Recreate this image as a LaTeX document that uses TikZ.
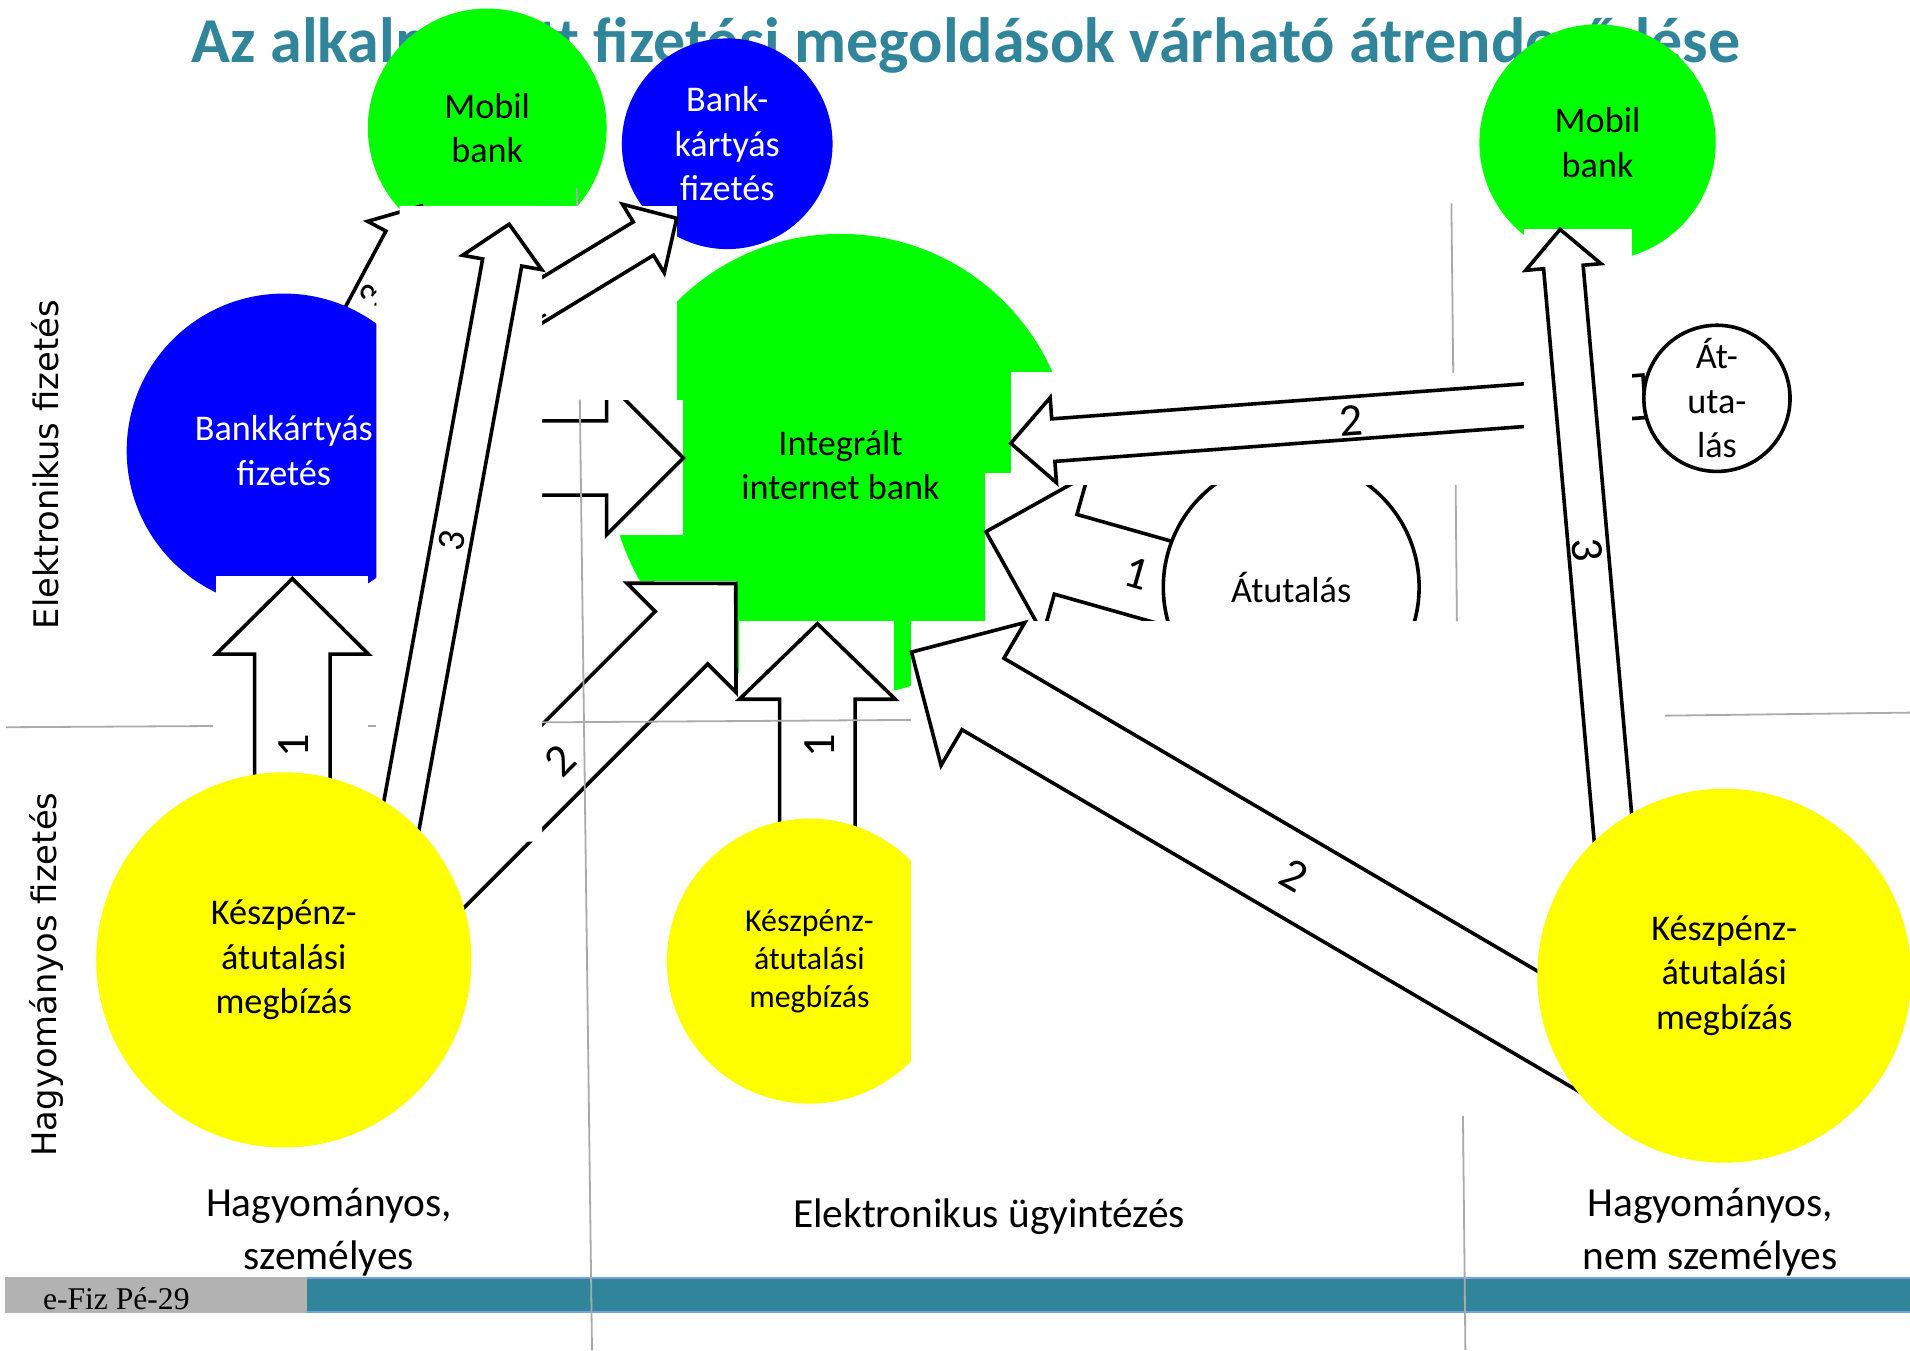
\documentclass[tikz,border=0pt]{standalone}
\usepackage{fontspec}
\setmainfont{Carlito}
\newfontfamily\dejavu{DejaVu Sans}
\newfontfamily\timesf{Liberation Serif}
\usetikzlibrary{calc}
\definecolor{ttl}{RGB}{49,133,155}
\definecolor{gbright}{RGB}{0,255,0}
\definecolor{bblue}{RGB}{0,0,255}
\definecolor{yel}{RGB}{255,255,0}
\definecolor{gline}{RGB}{170,170,170}
\definecolor{barteal}{RGB}{49,133,155}
\definecolor{bargray}{RGB}{178,178,178}
\definecolor{baredge}{RGB}{120,160,220}
\newcommand{\blockarrow}[5]{%
  \coordinate (babase) at ($(#1)!{#5*0.609057pt}!(#2)$);
  \draw[blockar] (#1) -- ($(babase)!{#4*0.609057pt}!90:(#1)$) -- ($(babase)!{#3*0.609057pt}!90:(#1)$)
     -- ($(#2)!{#3*0.609057pt}!90:(#1)$) -- ($(#2)!{#3*0.609057pt}!-90:(#1)$)
     -- ($(babase)!{#3*0.609057pt}!-90:(#1)$) -- ($(babase)!{#4*0.609057pt}!-90:(#1)$) -- cycle;
}
\tikzset{
  blockar/.style={draw=black, fill=white, line width=1.8pt, line join=miter, miter limit=10},
  mask/.style={fill=white},
  circtxt/.style={circle, inner sep=0pt, align=center, font=\fontsize{18.1pt}{22.2pt}\selectfont},
  ringtxt/.style={circtxt, draw=black, fill=white, line width=1.8pt},
  lbl/.style={font=\fontsize{23.1pt}{23.1pt}\selectfont, inner sep=0pt},
  slbl/.style={font=\fontsize{19.5pt}{19.5pt}\selectfont, inner sep=0pt},
  gl/.style={draw=gline, line width=0.9pt},
  bottomtxt/.style={anchor=base, inner sep=0pt, font=\fontsize{20.7pt}{26.8pt}\selectfont},
  sidetxt/.style={rotate=90, anchor=base, inner sep=0pt, font=\dejavu\fontsize{16.9pt}{16.9pt}\selectfont},
}
\begin{document}
\begin{tikzpicture}[x=0.609057pt, y=-0.609057pt]
\useasboundingbox (0,0) rectangle (1568,1108.27);
% title
\node[anchor=base, text=ttl, inner sep=0pt, font=\bfseries\fontsize{32pt}{32pt}\selectfont] (title) at (793,51) {Az alkalmazott fizetési megoldások várható átrendeződése};

% circles at the back
\node[circtxt, fill=gbright, minimum size={380*0.609057pt}] (iib) at (690,382) {Integrált\\internet bank};
\node[circtxt, fill=bblue, text=white, minimum size={173*0.609057pt}] (bk2) at (597,118) {Bank-\\kártyás\\fizetés};
\node[circtxt, fill=gbright, minimum size={196*0.609057pt}] (mb1) at (400,105) {Mobil\\bank};
\node[circtxt, fill=gbright, minimum size={194*0.609057pt}] (mbr) at (1311.5,117) {Mobil\\bank};

% hidden arrow 3: card payment -> mobile bank
\coordinate (h3tip) at (346,169);
\coordinate (h3tail) at (275.5,301);
\blockarrow{h3tip}{h3tail}{16}{33}{32}
\node[slbl, rotate=62] (h3lbl) at (306,243) {3};
\node[circtxt, fill=bblue, text=white, minimum size={258*0.609057pt}] (bk1) at (233,370) {Bankkártyás\\fizetés};

% arrow 1 left
\fill[mask] (177,473) rectangle (302,640);
\coordinate (a1tip) at (240,475);
\coordinate (a1tail) at (240,700);
\blockarrow{a1tip}{a1tail}{31}{62.5}{62}
\node[lbl, rotate=90] (a1lbl) at (240.8,612) {1};

% arrow into integrated bank from left
\fill[mask] (445,328) rectangle (561,439);
\coordinate (aritip) at (561,376);
\coordinate (aritail) at (320,376);
\blockarrow{aritip}{aritail}{30.5}{63}{63}

% arrow 2 yellow-left -> integrated bank
\fill[mask] (445,477) rectangle (604,745);
\coordinate (a2itip) at (604,479);
\coordinate (a2itail) at (335,748);
\blockarrow{a2itip}{a2itail}{30.5}{63.3}{63}
\node[lbl, rotate=45] (a2ilbl) at (459.7,624) {2};

% arrow 2 -> bank card (small circle)
\fill[mask] (445,169) rectangle (556,328);
\coordinate (a2btip) at (555.5,179.2);
\coordinate (a2btail) at (320,322.6);
\blockarrow{a2btip}{a2btail}{16}{33}{32}
\node[slbl, rotate=31] (a2blbl) at (438,254) {2};

% long arrow 3 left
\fill[mask] (328,169) -- (445,169) -- (445,691) -- (309,691) -- (309,215) -- (328,215) -- cycle;
\coordinate (a3tip) at (418,184);
\coordinate (a3tail) at (324,700);
\blockarrow{a3tip}{a3tail}{16.3}{33}{32}
\node[slbl, rotate=80] (a3lbl) at (371,444) {3};

% arrow 1 middle
\fill[mask] (607,510) rectangle (734,680);
\coordinate (am1tip) at (671,512);
\coordinate (am1tail) at (671,720);
\blockarrow{am1tip}{am1tail}{31}{64}{62}
\node[lbl, rotate=90] (am1lbl) at (672.5,612) {1};

\node[circtxt, fill=yel, minimum size={234*0.609057pt}, font=\fontsize{15.96pt}{18.9pt}\selectfont] (ym) at (664.5,789) {Készpénz-\\átutalási\\megbízás};

% arrow 1 from Atutalas
\fill[mask] (809,388) rectangle (955,510);
\coordinate (at1tip) at (809.4,436.5);
\coordinate (at1tail) at (1001.8,491);
\blockarrow{at1tip}{at1tail}{34}{68}{68}
\node[lbl, rotate=-16] (at1lbl) at (933,471) {1};

\node[ringtxt, minimum size={210*0.609057pt}] (atut) at (1060,482) {Átutalás};

% arrow 2 from small Atutalas
\fill[mask] (830,305) rectangle (1350,398);
\coordinate (at2tip) at (829.8,363.9);
\coordinate (at2tail) at (1350,325.3);
\blockarrow{at2tip}{at2tail}{17.5}{35}{35}
\node[lbl, rotate=4] (at2lbl) at (1108.8,345) {2};

% arrow 2 from yellow right
\fill[mask] (748,510) rectangle (1300,915);
\coordinate (ar2tip) at (748.3,535.3);
\coordinate (ar2tail) at (1335.1,879.4);
\blockarrow{ar2tip}{ar2tail}{34}{68}{68}
\node[lbl, rotate=-30] (ar2lbl) at (1062,719) {2};

% arrow 3 right
\fill[mask] (1251.5,188) rectangle (1340,700);
\coordinate (ar3tip) at (1280.7,188.3);
\coordinate (ar3tail) at (1330,746);
\blockarrow{ar3tip}{ar3tail}{16.3}{31}{31}
\node[lbl, rotate=-85] (ar3lbl) at (1303,451) {3};

\node[ringtxt, minimum size={120*0.609057pt}] (atu2) at (1409.5,327) {Át-\\uta-\\lás};

% yellow circles in front
\node[circtxt, fill=yel, minimum size={308*0.609057pt}] (yl) at (233,788) {Készpénz-\\átutalási\\megbízás};
\node[circtxt, fill=yel, minimum size={307*0.609057pt}] (yr) at (1415.5,801) {Készpénz-\\átutalási\\megbízás};

% bottom bar
\fill[bargray] (4.4,1048) rectangle (252,1078);
\fill[barteal] (252,1049) rectangle (1568,1077);
\draw[baredge, line width=0.8pt] (252,1049) -- (1568,1049) (252,1077) -- (1568,1077);
\node[anchor=base west, inner sep=0pt, font=\timesf\fontsize{15.8pt}{15.8pt}\selectfont] (foot) at (35,1075) {e-Fiz Pé-29};

% grid lines
\draw[gl] (5,597) -- (175,596);
\draw[gl] (302,596) -- (309,596);
\draw[gl] (445,593) -- (748,591);
\draw[gl] (1367,587.5) -- (1568,585);
\draw[gl] (473.4,154.5) -- (473.6,169);
\draw[gl] (476,328) -- (486,1108.27);
\draw[gl] (1191.5,167) -- (1193,306);
\draw[gl] (1195,398) -- (1196,510);
\draw[gl] (1201,916) -- (1203,1108.27);

% axis texts
\node[bottomtxt] (bl1) at (270,999) {Hagyományos,};
\node[bottomtxt] (bl2) at (270,1042) {személyes};
\node[bottomtxt] (bm) at (812,1008) {Elektronikus ügyintézés};
\node[bottomtxt] (br1) at (1404,999) {Hagyományos,};
\node[bottomtxt] (br2) at (1404,1042) {nem személyes};
\node[sidetxt] (sl1) at (48,381.5) {Elektronikus fizetés};
\node[sidetxt] (sl2) at (46,800) {Hagyományos fizetés};
\end{tikzpicture}
\end{document}
